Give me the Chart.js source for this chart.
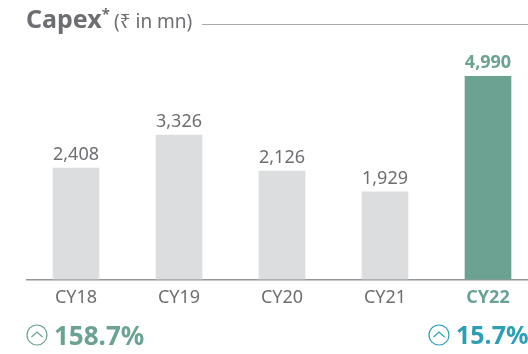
<!DOCTYPE html>
<html><head><meta charset="utf-8">
<script src="https://cdn.jsdelivr.net/npm/chart.js@4"></script>
<style>
html,body{margin:0;padding:0;background:#fff;width:528px;height:354px;overflow:hidden;font-family:"Noto Sans",sans-serif}
#wrap{position:absolute;left:0;top:0;width:540px;height:354px}
.t{position:absolute;white-space:nowrap;line-height:1}
</style></head><body>
<div id="wrap"><canvas id="c" width="540" height="354"></canvas></div>
<div style="position:absolute;left:0;top:276px;width:26px;height:8px;background:#fff"></div>
<div class="t" style="left:26px;top:6px;font-size:25px;font-weight:700;color:#6d6e71">Capex<sup style="font-size:15px;line-height:0">*</sup></div>
<div class="t" style="left:114px;top:12px;font-size:19px;color:#6d6e71">(₹ in mn)</div>
<div style="position:absolute;left:202px;top:24px;width:326px;height:1px;background:#a7a9ac"></div>
<div class="t" style="left:54px;top:322px;font-size:26px;font-weight:700;color:#6ba292">158.7%</div>
<div class="t" style="left:456px;top:322px;font-size:25px;font-weight:700;color:#2a9fb5">15.7%</div>
<svg style="position:absolute;left:26px;top:324px" width="22" height="22" fill="none" stroke="#6ba292" stroke-width="1.2"><circle cx="11" cy="11" r="10"/><path d="M5.5 13 L11 8 L16.5 13"/></svg>
<svg style="position:absolute;left:428px;top:324px" width="22" height="22" fill="none" stroke="#2a9fb5" stroke-width="1.2"><circle cx="11" cy="11" r="10"/><path d="M5.5 13 L11 8 L16.5 13"/></svg>
<script>
const categories=["CY18","CY19","CY20","CY21","CY22"];
// Printed values, as labelled in the picture.
const printedValues=["2,408","3,326","2,126","1,929","4,990"];
// Bar lengths as drawn: the reference's bars are not to scale with their printed
// labels, so these are read from the bar heights, on a scale where CY22 = 4990.
const drawnValues=[2734,3543,2660,2146,4990];
const barColors=["#dcddde","#dcddde","#dcddde","#dcddde","#6ba292"];
const labelColors=["#6d6e71","#6d6e71","#6d6e71","#6d6e71","#6ba292"];
const valueLabels={id:"valueLabels",afterDatasetsDraw(ch){
  const g=ch.ctx,m=ch.getDatasetMeta(0);
  g.save();g.textAlign="center";g.textBaseline="alphabetic";
  m.data.forEach((b,i)=>{
    g.font=(i===4?"700 ":"400 ")+"18px 'Noto Sans'";
    g.fillStyle=labelColors[i];
    g.fillText(printedValues[i],b.x,b.y-8);
  });
  g.restore();
}};
new Chart(document.getElementById("c"),{
  type:"bar",
  data:{labels:categories,datasets:[{data:drawnValues,backgroundColor:barColors,borderWidth:0,barThickness:46}]},
  plugins:[valueLabels],
  options:{
    responsive:false,animation:false,
    layout:{padding:{left:24.5,right:0.5,top:76,bottom:37}},
    plugins:{legend:{display:false},tooltip:{enabled:false},title:{display:false}},
    scales:{
      x:{grid:{display:false,drawTicks:false},border:{display:true,color:"#939598",width:1.5},
         ticks:{color:labelColors,padding:8,font:c=>({family:"'Noto Sans'",size:18,weight:c.index===4?"700":"400"}),maxRotation:0}},
      y:{display:false,min:0,max:4990}
    }
  }
});
</script>
</body></html>
